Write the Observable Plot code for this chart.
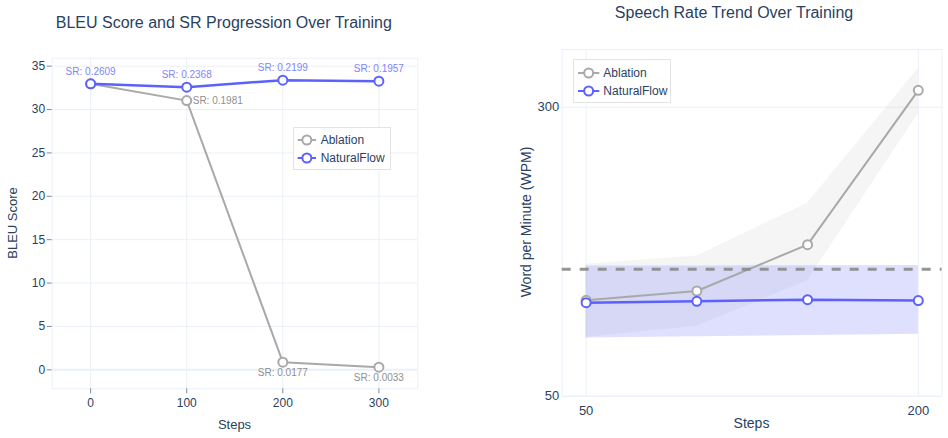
<!DOCTYPE html>
<html>
<head>
<meta charset="utf-8">
<script src="https://cdn.jsdelivr.net/npm/d3@7"></script>
<script src="https://cdn.jsdelivr.net/npm/@observablehq/plot@0.6"></script>
<style>
  body { margin: 0; background: #fff; font-family: "Liberation Sans", Arial, Helvetica, sans-serif; color: #2a3f5f; }
  #wrap { position: relative; width: 948px; height: 438px; overflow: hidden; background: #fff; }
  .panel { position: absolute; top: 0; }
  .txt { position: absolute; white-space: nowrap; line-height: 1; transform: translate(-50%, -50%); }
  .rot { transform: translate(-50%, -50%) rotate(-90deg); }
</style>
</head>
<body>
<div id="wrap"></div>
<script>
// ---------- data ----------
const seriesNames = ["Ablation", "NaturalFlow"];
const seriesColors = ["#a9a9a9", "#5b62fb"];

// Left panel: BLEU + SR
const bleuSteps = [0, 100, 200, 300];
const ablationBleu = [32.97, 31.03, 0.88, 0.30];
const naturalBleu = [32.97, 32.58, 33.39, 33.27];
const ablationSR = [0.2609, 0.1981, 0.0177, 0.0033];
const naturalSR = [0.2609, 0.2368, 0.2199, 0.1957];
const bleuTicks = [0, 5, 10, 15, 20, 25, 30, 35];
const bleuStepTicks = [0, 100, 200, 300];

// Right panel: speech rate
const rateSteps = [50, 100, 150, 200];
const ablationWpm = [133, 141.1, 181.2, 314.7];
const ablationLow = [101, 110.6, 150, 294.5];
const ablationHigh = [164.2, 171.4, 217, 333.5];
const naturalWpm = [131, 132.2, 133.6, 132.8];
const naturalLow = [100.4, 101.5, 102.6, 103.6];
const naturalHigh = [162.7, 162.8, 163, 163.1];
const referenceWpm = [160];
const wpmTicks = [50, 300];
const rateStepTicks = [50, 200];

// ---------- tables ----------
const ablBleuRows = bleuSteps.map((s, i) => ({ step: s, bleu: ablationBleu[i], sr: ablationSR[i] }));
const natBleuRows = bleuSteps.map((s, i) => ({ step: s, bleu: naturalBleu[i], sr: naturalSR[i] }));
const ablRateRows = rateSteps.map((s, i) => ({ step: s, wpm: ablationWpm[i], low: ablationLow[i], high: ablationHigh[i] }));
const natRateRows = rateSteps.map((s, i) => ({ step: s, wpm: naturalWpm[i], low: naturalLow[i], high: naturalHigh[i] }));

const FONT = '"Liberation Sans", Arial, Helvetica, sans-serif';
const INK = "#2a3f5f";
const GRID = "#ebf0f8";
const GRAY = seriesColors[0], BLUE = seriesColors[1];
const srText = d => `SR: ${d.sr.toFixed(4)}`;

const wrap = document.getElementById("wrap");

// ---------- left panel ----------
const left = Plot.plot({
  width: 474, height: 438,
  marginLeft: 51.7, marginRight: 56.7, marginTop: 57.7, marginBottom: 49.7,
  x: { domain: [-40, 340.5] },
  y: { domain: [-2.19, 35.92] },
  style: { fontFamily: FONT, fontSize: "12px", color: INK, background: "transparent", overflow: "visible" },
  marks: [
    Plot.gridX(bleuStepTicks, { stroke: GRID, strokeOpacity: 1 }),
    Plot.gridY(bleuTicks, { stroke: GRID, strokeOpacity: 1 }),
    Plot.ruleY([0], { stroke: GRID, strokeWidth: 2 }),
    Plot.frame({ stroke: GRID }),
    Plot.axisX(bleuStepTicks, { tickSize: 5, tickPadding: 5, label: null, tickFormat: d => String(d), stroke: INK, strokeOpacity: 0.6 }),
    Plot.axisY(bleuTicks, { tickSize: 5, tickPadding: 2, label: null, tickFormat: d => String(d), stroke: INK, strokeOpacity: 0.6 }),
    Plot.line(ablBleuRows, { x: "step", y: "bleu", stroke: GRAY, strokeWidth: 2 }),
    Plot.dot(ablBleuRows, { x: "step", y: "bleu", r: 4.5, fill: "white", stroke: GRAY, strokeWidth: 2 }),
    Plot.text(ablBleuRows, { filter: d => d.step === 100, x: "step", y: "bleu", text: srText, dx: 6, textAnchor: "start", fill: "#8f8f8f", fontSize: 10 }),
    Plot.text(ablBleuRows, { filter: d => d.step >= 200, x: "step", y: "bleu", text: srText, dy: 11, fill: "#8f8f8f", fontSize: 10 }),
    Plot.line(natBleuRows, { x: "step", y: "bleu", stroke: BLUE, strokeWidth: 2.5 }),
    Plot.dot(natBleuRows, { x: "step", y: "bleu", r: 4.5, fill: "white", stroke: BLUE, strokeWidth: 2 }),
    Plot.text(natBleuRows, { x: "step", y: "bleu", text: srText, dy: -12, fill: "#7f84fb", fontSize: 10 })
  ]
});

// ---------- right panel ----------
const right = Plot.plot({
  width: 474, height: 438,
  marginLeft: 87.7, marginRight: 6.5, marginTop: 49, marginBottom: 42.2,
  x: { domain: [39.2, 210.7] },
  y: { domain: [50, 350] },
  style: { fontFamily: FONT, fontSize: "13px", color: INK, background: "transparent", overflow: "visible" },
  marks: [
    Plot.gridX(rateStepTicks, { stroke: GRID, strokeOpacity: 1 }),
    Plot.gridY(wpmTicks, { stroke: GRID, strokeOpacity: 1 }),
    Plot.frame({ stroke: GRID }),
    Plot.areaY(ablRateRows, { x: "step", y1: "low", y2: "high", fill: GRAY, fillOpacity: 0.12 }),
    Plot.areaY(natRateRows, { x: "step", y1: "low", y2: "high", fill: BLUE, fillOpacity: 0.2 }),
    Plot.line(ablRateRows, { x: "step", y: "wpm", stroke: GRAY, strokeWidth: 2 }),
    Plot.dot(ablRateRows, { x: "step", y: "wpm", r: 4.5, fill: "white", stroke: GRAY, strokeWidth: 2 }),
    Plot.line(natRateRows, { x: "step", y: "wpm", stroke: BLUE, strokeWidth: 2.5 }),
    Plot.dot(natRateRows, { x: "step", y: "wpm", r: 4.5, fill: "white", stroke: BLUE, strokeWidth: 2 }),
    Plot.ruleY(referenceWpm, { stroke: "#8a8a8a", strokeOpacity: 0.9, strokeWidth: 3, strokeDasharray: "9,9" }),
    Plot.axisX(rateStepTicks, { tickSize: 0, tickPadding: 9, label: null, tickFormat: d => String(d) }),
    Plot.axisY(wpmTicks, { tickSize: 0, tickPadding: 3, label: null, tickFormat: d => String(d) })
  ]
});

function addPanel(svg, x) {
  const d = document.createElement("div");
  d.className = "panel";
  d.style.left = x + "px";
  d.appendChild(svg);
  wrap.appendChild(d);
}
addPanel(left, 0);
addPanel(right, 474);

function addText(str, x, y, size, rotate) {
  const d = document.createElement("div");
  d.className = "txt" + (rotate ? " rot" : "");
  d.style.left = x + "px";
  d.style.top = y + "px";
  d.style.fontSize = size + "px";
  d.textContent = str;
  wrap.appendChild(d);
}
addText("BLEU Score and SR Progression Over Training", 223.8, 23.3, 16);
addText("Speech Rate Trend Over Training", 734, 12.8, 16);
addText("Steps", 234.5, 424.3, 13);
addText("Steps", 751.5, 423, 14);
addText("BLEU Score", 12.3, 223.3, 13, true);
addText("Word per Minute (WPM)", 525.5, 221.7, 14, true);

// ---------- legends ----------
function addLegend(x, y, w, h, o) {
  const svg = d3.select(wrap).append("svg")
    .style("position", "absolute").style("left", x + "px").style("top", y + "px")
    .attr("width", w).attr("height", h);
  svg.append("rect").attr("x", 0.5).attr("y", 0.5).attr("width", w - 1).attr("height", h - 1)
    .attr("fill", "white").attr("stroke", "#e3e3e3");
  seriesNames.forEach((name, i) => {
    const cy = o.row0 + i * o.gap;
    const g = svg.append("g");
    g.append("line").attr("x1", o.lx1).attr("x2", o.lx2).attr("y1", cy).attr("y2", cy)
      .attr("stroke", seriesColors[i]).attr("stroke-width", 2);
    g.append("circle").attr("cx", (o.lx1 + o.lx2) / 2).attr("cy", cy).attr("r", 4.5)
      .attr("fill", "white").attr("stroke", seriesColors[i]).attr("stroke-width", 2);
    g.append("text").attr("x", o.tx).attr("y", cy).attr("dy", "0.35em")
      .attr("font-family", FONT).attr("font-size", 12).attr("fill", INK).text(name);
  });
}
addLegend(293, 127, 98, 43, { row0: 13, gap: 18, lx1: 4.7, lx2: 23, tx: 27.7 });
addLegend(573, 59, 98, 44, { row0: 14, gap: 18, lx1: 5, lx2: 26.3, tx: 30.3 });
</script>
</body>
</html>
